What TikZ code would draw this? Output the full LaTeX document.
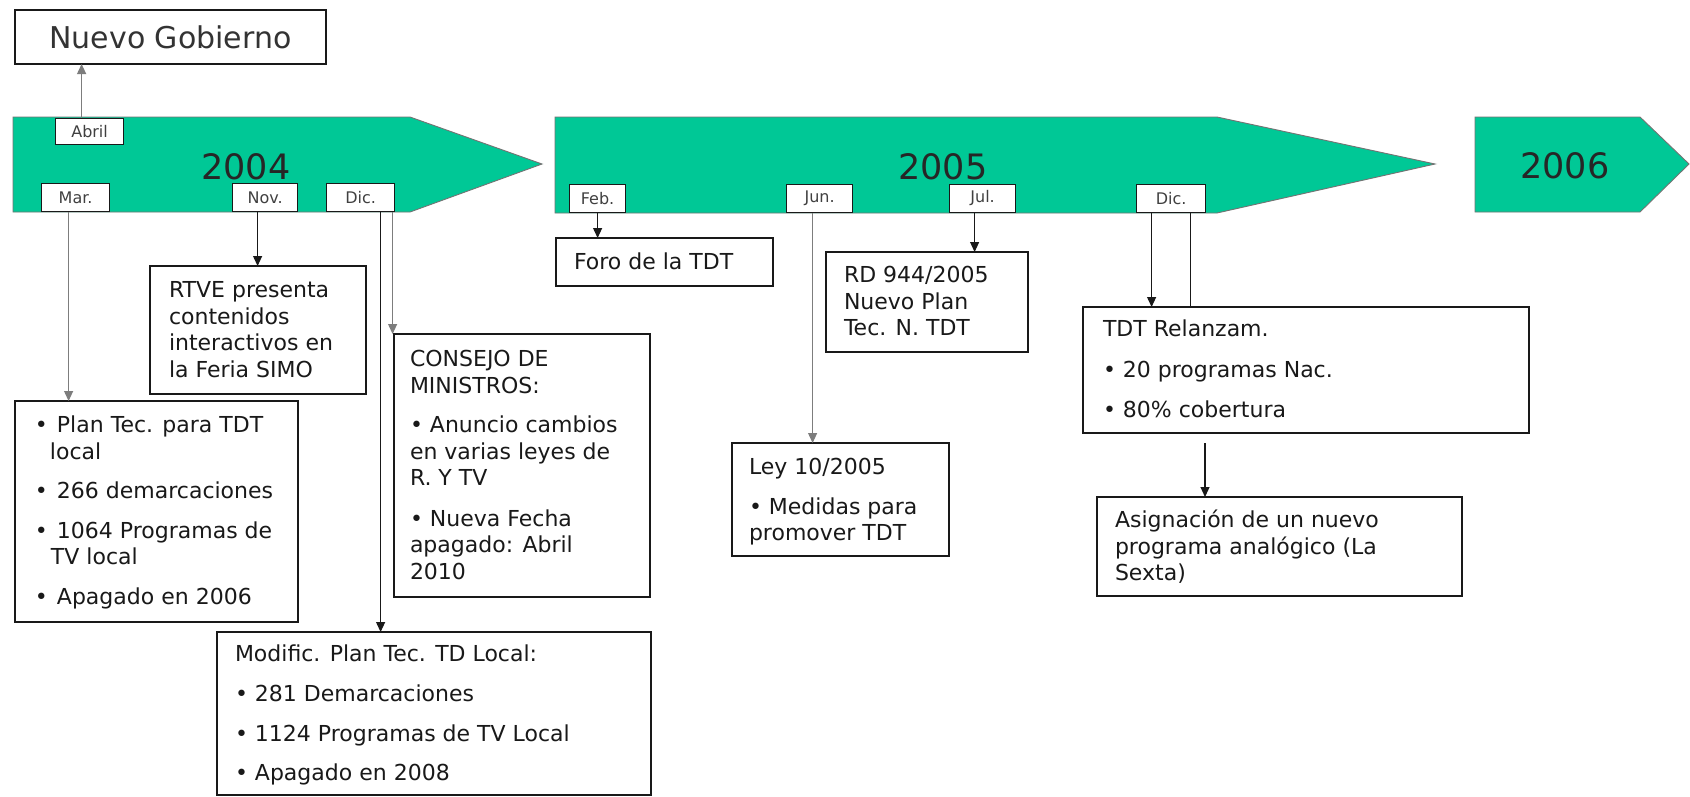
\documentclass[tikz,border=0pt]{standalone}
\usepackage{fontspec}
\setmainfont{DejaVu Sans}
\usetikzlibrary{arrows.meta}

\definecolor{tlgreen}{RGB}{0,200,150}
\definecolor{tlgray}{RGB}{125,125,125}

% fixed-size text block: width, height, left pad, top gap, lines
\newcommand\boxtext[5]{%
  \parbox[t][#2][t]{#1}{\fontsize{22}{26.5}\selectfont\raggedright
    \leftskip=#3\relax\vspace*{#4}#5}}

\tikzset{
  yearbar/.style={fill=tlgreen, draw=black!55, line width=0.9pt, line join=miter},
  yeartext/.style={font=\fontsize{35}{40}\selectfont, text=black!85, inner sep=0pt},
  month/.style={draw=black!90, fill=white, line width=1.2pt, inner sep=0pt,
    minimum height=28pt, font=\fontsize{16}{18}\selectfont, text=black!75},
  infobox/.style={draw=black!90, fill=white, line width=1.5pt, inner sep=0pt,
    outer sep=0pt, anchor=north west, text=black!90},
  link/.style={line width=1.2pt, draw=black!90, -{Triangle[length=10pt,width=9pt]}},
  glink/.style={link, draw=tlgray},
  plainlink/.style={line width=1.2pt, draw=black!90}
}

\begin{document}
\begin{tikzpicture}[x=1pt,y=-1pt]
\useasboundingbox[fill=white] (0,0) rectangle (1690,796);

% year bars
\path[yearbar] (13,117) -- (410,117) -- (542,164) -- (410,212) -- (13,212) -- cycle;
\path[yearbar] (555,117) -- (1217,117) -- (1435,164) -- (1217,213) -- (555,213) -- cycle;
\path[yearbar] (1475,117) -- (1640,117) -- (1689,164) -- (1640,212) -- (1475,212) -- cycle;

\node[yeartext] (y2004) at (246,167) {2004};
\node[yeartext] (y2005) at (943,167) {2005};
\node[yeartext] (y2006) at (1565,166) {2006};

% month tags
\node[month, minimum width=68pt, minimum height=26pt, anchor=north west] (abril) at (55,118) {Abril};
\node[month, minimum width=68pt, anchor=south west] (mar) at (41,212) {Mar.};
\node[month, minimum width=65pt, anchor=south west] (nov) at (232,212) {Nov.};
\node[month, minimum width=68pt, anchor=south west] (dic) at (326,212) {Dic.};
\node[month, minimum width=56pt, anchor=south west] (feb) at (569,213) {Feb.};
\node[month, minimum width=66pt, anchor=south west] (jun) at (786,213) {Jun.};
\node[month, minimum width=66pt, anchor=south west] (jul) at (949,213) {Jul.};
\node[month, minimum width=69pt, anchor=south west] (dicb) at (1136,213) {Dic.};

% event boxes
\node[infobox, minimum width=311pt, minimum height=54pt,
      font=\fontsize{30}{34}\selectfont, text=black!80] (ng) at (15,10) {Nuevo Gobierno};

\node[infobox] (plan) at (15,401) {\boxtext{283pt}{221pt}{20pt}{13pt}{%
  \strut\textbullet\hspace{9pt}Plan Tec. para TDT\\
  \hspace*{15pt}local\\[13pt]
  \textbullet\hspace{9pt}266 demarcaciones\\[13pt]
  \textbullet\hspace{9pt}1064 Programas de\\
  \hspace*{16pt}TV local\\[13pt]
  \textbullet\hspace{9pt}Apagado en 2006}};

\node[infobox] (rtve) at (150,266) {\boxtext{216pt}{128pt}{19pt}{13pt}{%
  \strut RTVE presenta\\
  contenidos\\
  interactivos en\\
  la Feria SIMO}};

\node[infobox] (cons) at (394,334) {\boxtext{256pt}{263pt}{16pt}{14pt}{%
  \strut CONSEJO DE\\
  MINISTROS:\\[13pt]
  \textbullet\ Anuncio cambios\\
  en varias leyes de\\
  R. Y TV\\[14pt]
  \textbullet\ Nueva Fecha\\
  apagado: Abril\\
  2010}};

\node[infobox] (mod) at (217,632) {\boxtext{434pt}{163pt}{18pt}{11pt}{%
  \strut Modific. Plan Tec. TD Local:\\[13pt]
  \textbullet\ 281 Demarcaciones\\[14pt]
  \textbullet\ 1124 Programas de TV Local\\[12pt]
  \textbullet\ Apagado en 2008}};

\node[infobox] (foro) at (556,238) {\boxtext{217pt}{48pt}{18pt}{13pt}{%
  \strut Foro de la TDT}};

\node[infobox] (ley) at (732,443) {\boxtext{217pt}{113pt}{17pt}{13pt}{%
  \strut Ley 10/2005\\[13pt]
  \textbullet\ Medidas para\\
  promover TDT}};

\node[infobox] (rd) at (826,252) {\boxtext{202pt}{100pt}{18pt}{12pt}{%
  \strut RD 944/2005\\
  Nuevo Plan\\
  Tec. N. TDT}};

\node[infobox] (tdt) at (1083,307) {\boxtext{446pt}{126pt}{20pt}{11pt}{%
  \strut TDT Relanzam.\\[14pt]
  \textbullet\ 20 programas Nac.\\[14pt]
  \textbullet\ 80\% cobertura}};

\node[infobox] (asg) at (1097,497) {\boxtext{365pt}{99pt}{18pt}{12pt}{%
  \strut Asignación de un nuevo\\
  programa analógico (La\\
  Sexta)}};

% connectors
\draw[glink] ([xshift=-8pt]abril.north) -- ([xshift=-8pt]abril.north |- ng.south);
\draw[glink] ([xshift=-7pt]mar.south) -- ([xshift=-7pt]mar.south |- plan.north);
\draw[link] ([xshift=-7.5pt]nov.south) -- ([xshift=-7.5pt]nov.south |- rtve.north);
\draw[link] ([xshift=20pt]dic.south) -- ([xshift=20pt]dic.south |- mod.north);
\draw[glink] ([xshift=32pt]dic.south) -- ([xshift=32pt]dic.south |- cons.north);
\draw[link] (feb.south) -- (feb.south |- foro.north);
\draw[glink, line width=1pt] ([xshift=-7pt]jun.south) -- ([xshift=-7pt]jun.south |- ley.north);
\draw[link, line width=1pt] ([xshift=-8pt]jul.south) -- ([xshift=-8pt]jul.south |- rd.north);
\draw[link] ([xshift=-19.5pt]dicb.south) -- ([xshift=-19.5pt]dicb.south |- tdt.north);
\draw[plainlink] ([xshift=19.5pt]dicb.south) -- ([xshift=19.5pt]dicb.south |- tdt.north);
\draw[link] ([xshift=122pt,yshift=-10pt]tdt.south west) -- ([xshift=122pt]tdt.south west |- asg.north);
\end{tikzpicture}
\end{document}
